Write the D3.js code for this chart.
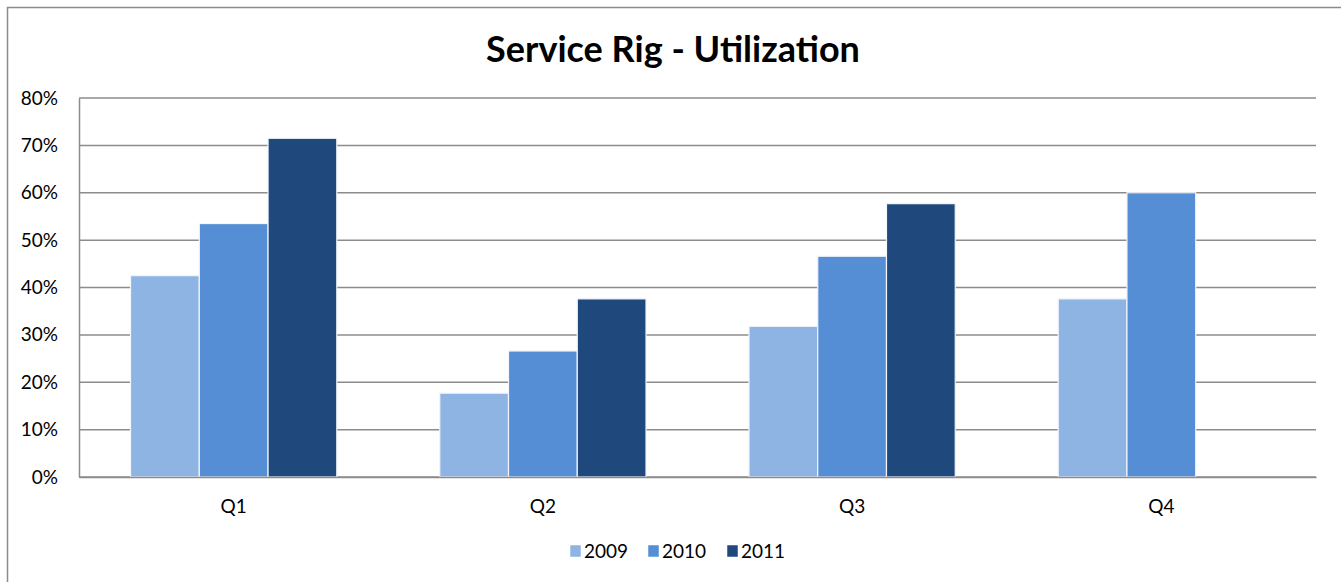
<!DOCTYPE html>
<html>
<head>
<meta charset="utf-8">
<script src="https://cdnjs.cloudflare.com/ajax/libs/d3/7.8.5/d3.min.js"></script>
<style>
  body { margin: 0; background: #fff; }
  text { font-family: Lato, "Open Sans", sans-serif; }
</style>
</head>
<body>
<div id="chart"></div>
<script>
var quarters = ["Q1", "Q2", "Q3", "Q4"];
var years = ["2009", "2010", "2011"];
var values2009 = [0.425, 0.177, 0.318, 0.376];
var values2010 = [0.535, 0.266, 0.466, 0.60];
var values2011 = [0.715, 0.376, 0.577, null];
var yTicks = [0, 0.1, 0.2, 0.3, 0.4, 0.5, 0.6, 0.7, 0.8];
var colors = ["#8eb4e3", "#558ed5", "#1f497d"];

var series = [values2009, values2010, values2011];

var width = 1341, height = 582;
var margin = {top: 98, right: 25, bottom: 105, left: 79};
var innerW = width - margin.left - margin.right,
    innerH = height - margin.top - margin.bottom;

var svg = d3.select("#chart")
  .append("svg")
  .attr("width", width)
  .attr("height", height);

// outer frame
svg.append("rect")
  .attr("x", 7.5)
  .attr("y", 7.5)
  .attr("width", 1340)
  .attr("height", 590)
  .attr("fill", "none")
  .attr("stroke", "#8c8c8c")
  .attr("stroke-width", 1.5);

svg.append("text")
  .attr("x", 673)
  .attr("y", 62)
  .attr("text-anchor", "middle")
  .style("font-size", "36px")
  .style("font-weight", "bold")
  .attr("fill", "#000")
  .text("Service Rig - Utilization");

var g = svg.append("g")
  .attr("transform", "translate(" + margin.left + "," + margin.top + ")");

var y = d3.scaleLinear()
  .domain([0, 0.8])
  .range([innerH, 0]);

var x0 = d3.scaleBand()
  .domain(quarters)
  .range([0, innerW])
  .paddingInner(0.333)
  .paddingOuter(0.1667);

var x1 = d3.scaleBand()
  .domain(years)
  .range([0, x0.bandwidth()]);

// gridlines
g.selectAll(".grid")
  .data(yTicks)
  .enter().append("line")
  .attr("class", "grid")
  .attr("x1", 0)
  .attr("x2", innerW)
  .attr("y1", function(d) { return y(d); })
  .attr("y2", function(d) { return y(d); })
  .attr("stroke", "#8c8c8c")
  .attr("stroke-width", 1.5);

var yAxis = d3.axisLeft(y)
  .tickValues(yTicks)
  .tickSize(0)
  .tickPadding(21)
  .tickFormat(d3.format(".0%"));

var yg = g.append("g").call(yAxis);
yg.select(".domain").attr("stroke", "#8c8c8c").attr("stroke-width", 1.5);
yg.selectAll("text").style("font-size", "19px").attr("fill", "#000");

// bars
var groups = g.selectAll(".qgroup")
  .data(quarters)
  .enter().append("g")
  .attr("class", "qgroup")
  .attr("transform", function(d) { return "translate(" + x0(d) + ",0)"; });

groups.selectAll("rect")
  .data(function(q, i) {
    return years.map(function(yr, j) { return {year: yr, value: series[j][i], c: colors[j]}; })
      .filter(function(d) { return d.value != null; });
  })
  .enter().append("rect")
  .attr("x", function(d) { return x1(d.year); })
  .attr("y", function(d) { return y(d.value); })
  .attr("width", x1.bandwidth())
  .attr("height", function(d) { return innerH - y(d.value); })
  .attr("fill", function(d) { return d.c; })
  .attr("stroke", "#f2f5fa")
  .attr("stroke-width", 1.2);

var xAxis = d3.axisBottom(x0)
  .tickSize(0)
  .tickPadding(23);

var xg = g.append("g")
  .attr("transform", "translate(0," + innerH + ")")
  .call(xAxis);
xg.select(".domain").attr("stroke", "#8c8c8c").attr("stroke-width", 1.5);
xg.selectAll("text").style("font-size", "19px").attr("fill", "#000");

// legend
var legendX = [570, 648, 727];
var legend = svg.selectAll(".legend")
  .data(years)
  .enter().append("g")
  .attr("class", "legend")
  .attr("transform", function(d, i) { return "translate(" + legendX[i] + ",545)"; });

legend.append("rect")
  .attr("width", 11)
  .attr("height", 12)
  .attr("fill", function(d, i) { return colors[i]; })
  .attr("stroke", "#fff")
  .attr("stroke-width", 0.5);

legend.append("text")
  .attr("x", 14)
  .attr("y", 13)
  .style("font-size", "19px")
  .attr("fill", "#000")
  .text(function(d) { return d; });
</script>
</body>
</html>
